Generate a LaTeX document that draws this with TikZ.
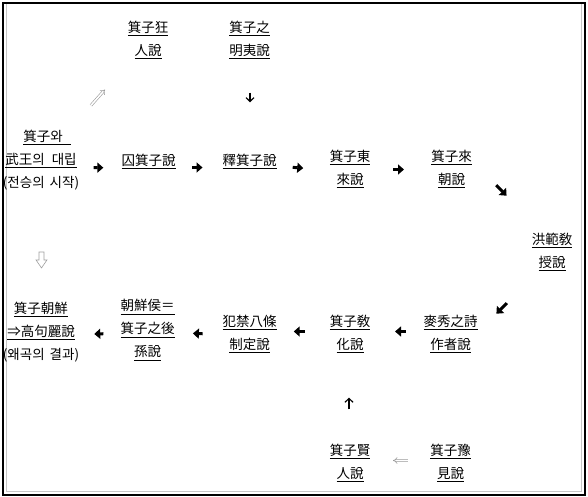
\documentclass[tikz,border=0pt]{standalone}
\usepackage{fontspec}
\setmainfont{Noto Sans CJK KR}
\usetikzlibrary{arrows.meta,calc}
\newsavebox\ulbox
\newcommand\ulin[1]{\sbox\ulbox{#1}\rlap{\rule[-3.6pt]{\wd\ulbox}{0.85pt}}\usebox\ulbox}
\newcommand\tline[1]{\rule[-6.4pt]{0pt}{23pt}#1}
\newcommand\ut[1]{\tline{\ulin{#1}}}
\tikzset{
  txt/.style={inner sep=0pt, align=center, font=\fontsize{13.5}{23}\selectfont, text=black},
  hv/.style={line width=3pt, -{Triangle[length=6pt,width=10pt]}},
  th/.style={line width=1.2pt, -{Straight Barb[length=3.8pt,width=8pt]}},
  dbl/.style={draw=gray!80, double, double distance=1.6pt, line width=0.6pt, -{Implies}},
}
\begin{document}
\begin{tikzpicture}[x=1pt,y=-1pt]
\useasboundingbox (0,0) rectangle (588,497);
% frame
\draw[gray!45, line width=0.7pt] (6.2,4) -- (6.2,491.5) -- (581.5,491.5) -- (581.5,4);
\draw[line width=2.2pt] (2.8,2.8) rectangle (584.8,494.6);
% nodes
\node[txt] (kj) at (148,38.5) {\ut{箕子狂}\\\ut{人說}};
\node[txt] (mi) at (249.5,38.5) {\ut{箕子之}\\\ut{明夷說}};
\node[txt] (L1) at (41,159.3) {\tline{\hspace*{12pt}\ulin{箕子와\hspace{8pt}}}\\\ut{武王의\hspace{7pt}대립}\\\tline{(전승의\hspace{5pt}시작)}};
\node[txt] (r2) at (148.5,160) {\ut{囚箕子說}};
\node[txt] (r3) at (249.5,160) {\ut{釋箕子說}};
\node[txt] (r4) at (350,167.8) {\ut{箕子東}\\\ut{來說}};
\node[txt] (r5) at (451.5,167.8) {\ut{箕子來}\\\ut{朝說}};
\node[txt] (hb) at (552,250.5) {\ut{洪範敎}\\\ut{授說}};
\node[txt] (r7) at (450.5,332.5) {\ut{麥秀之詩}\\\ut{作者說}};
\node[txt] (r8) at (350,332.5) {\ut{箕子敎}\\\ut{化說}};
\node[txt] (r9) at (249.5,332.5) {\ut{犯禁八條}\\\ut{制定說}};
\node[txt] (r10) at (147.5,328.7) {\ut{朝鮮侯＝}\\\ut{箕子之後}\\\ut{孫說}};
\node[txt] (L2) at (41,331.2) {\ut{箕子朝鮮}\\\ut{⇒高句麗說}\\\tline{(왜곡의\hspace{5pt}결과)}};
\node[txt] (b1) at (350,461.5) {\ut{箕子賢}\\\ut{人說}};
\node[txt] (b2) at (450.5,461.5) {\ut{箕子豫}\\\ut{見說}};
% connectors
\draw[hv] ($(L1.center)!0.49!(r2.center)+(0,8)$) -- ($(L1.center)!0.58!(r2.center)+(0,8)$);
\draw[hv] ($(r2.center)!0.435!(r3.center)+(0,7.5)$) -- ($(r2.center)!0.535!(r3.center)+(0,7.5)$);
\draw[hv] ($(r3.center)!0.43!(r4.center)+(0,4)$) -- ($(r3.center)!0.535!(r4.center)+(0,4)$);
\draw[hv] ($(r4.center)!0.424!(r5.center)+(0,1.7)$) -- ($(r4.center)!0.532!(r5.center)+(0,1.7)$);
\draw[hv] ($(r5.center)!0.445!(hb.center)+(0,-19.5)$) -- ($(r5.center)!0.548!(hb.center)+(0,-17.4)$);
\draw[hv] ($(hb.center)!0.445!(r7.center)+(0,16.1)$) -- ($(hb.center)!0.548!(r7.center)+(0,18.3)$);
\draw[hv] ($(r7.center)!0.443!(r8.center)+(0,-1)$) -- ($(r7.center)!0.552!(r8.center)+(0,-1)$);
\draw[hv] ($(r8.center)!0.448!(r9.center)+(0,-1)$) -- ($(r8.center)!0.56!(r9.center)+(0,-1)$);
\draw[hv] ($(r9.center)!0.46!(r10.center)+(0,3)$) -- ($(r9.center)!0.555!(r10.center)+(0,3)$);
\draw[hv] ($(r10.center)!0.415!(L2.center)+(0,4)$) -- ($(r10.center)!0.50!(L2.center)+(0,4)$);
\draw[th] ($(mi.center)!0.445!(r3.center)+(0.5,0)$) -- ($(mi.center)!0.525!(r3.center)+(0.5,0)$);
\draw[th] ($(b1.center)!0.405!(r8.center)+(-1,0)$) -- ($(b1.center)!0.495!(r8.center)+(-1,0)$);
\draw[dbl] ($(L1.center)!0.467!(kj.center)+(0,2.5)$) -- ($(L1.center)!0.598!(kj.center)+(0,2.5)$);
\draw[dbl] ($(b2.center)!0.423!(b1.center)+(0,-1)$) -- ($(b2.center)!0.572!(b1.center)+(0,-1)$);
\coordinate (wd) at ($(L1.center)!0.539!(L2.center)+(0.5,0)$);
\draw[gray!75, line width=0.6pt, line join=miter] (wd) ++(-2.5,0) -- ++(0,8) -- ++(-3,0) -- ++(5.5,8) -- ++(5.5,-8) -- ++(-3,0) -- ++(0,-8) -- cycle;
\end{tikzpicture}
\end{document}
